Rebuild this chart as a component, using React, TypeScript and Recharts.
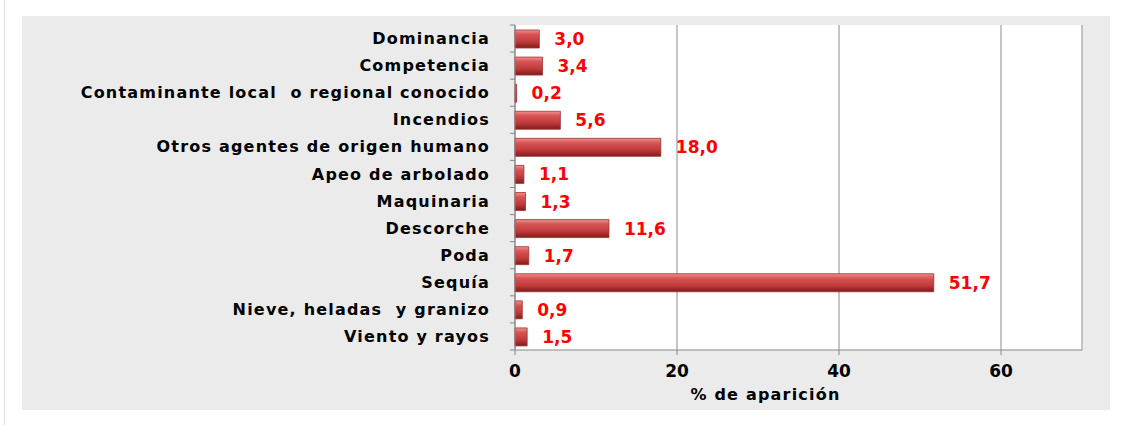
import React from 'react';
import {
  BarChart,
  Bar,
  XAxis,
  YAxis,
  CartesianGrid,
  LabelList,
  ReferenceLine
} from 'recharts';

const categories = [
  'Dominancia',
  'Competencia',
  'Contaminante local  o regional conocido',
  'Incendios',
  'Otros agentes de origen humano',
  'Apeo de arbolado',
  'Maquinaria',
  'Descorche',
  'Poda',
  'Sequía',
  'Nieve, heladas  y granizo',
  'Viento y rayos'
];

const values = [3.0, 3.4, 0.2, 5.6, 18.0, 1.1, 1.3, 11.6, 1.7, 51.7, 0.9, 1.5];

const xTicks = [0, 20, 40, 60];

const data = categories.map((name, i) => ({ name, value: values[i] }));

const CHART_W = 1088;
const CHART_H = 394;
const MARGIN = { top: 9, right: 28, left: 0, bottom: 0 };
const X_AXIS_H = 60;
const BAND = (CHART_H - MARGIN.top - MARGIN.bottom - X_AXIS_H) / categories.length;

const fmt = (v: number) => v.toFixed(1).replace('.', ',');

const CategoryTick = (props: any) => {
  const { x, y, payload, index } = props;
  return (
    <g>
      <line x1={x - 5} x2={x} y1={y - BAND / 2} y2={y - BAND / 2} stroke="#888" />
      {index === categories.length - 1 && (
        <line x1={x - 5} x2={x} y1={y + BAND / 2} y2={y + BAND / 2} stroke="#888" />
      )}
      <text
        x={x - 25}
        y={y}
        dy="0.35em"
        textAnchor="end"
        fill="#000"
        style={{ fontFamily: 'DejaVu Sans', fontWeight: 700, fontSize: 16, letterSpacing: 1.2, whiteSpace: 'pre' }}
      >
        {payload.value}
      </text>
    </g>
  );
};

export default function App() {
  return (
    <div style={{ position: 'absolute', left: 0, top: 0, width: 1127, height: 425, background: '#fff' }}>
      <div style={{ position: 'absolute', left: 4, top: 0, width: 1, height: 425, background: '#dcdcdc' }} />
      <div style={{ position: 'absolute', left: 22, top: 16, width: CHART_W, height: CHART_H, background: '#ebebeb' }}>
        <BarChart
          width={CHART_W}
          height={CHART_H}
          data={data}
          layout="vertical"
          margin={MARGIN}
          barSize={18}
        >
          <defs>
            <linearGradient id="barFill" x1="0" y1="0" x2="0" y2="1">
              <stop offset="0%" stopColor="#f09090" />
              <stop offset="25%" stopColor="#d85454" />
              <stop offset="65%" stopColor="#c03a3a" />
              <stop offset="100%" stopColor="#7e1c1c" />
            </linearGradient>
          </defs>
          <CartesianGrid horizontal={false} stroke="#8a8a8a" fill="#fff" />
          <XAxis
            type="number"
            domain={[0, 70]}
            ticks={xTicks}
            height={X_AXIS_H}
            stroke="#888"
            tickSize={5}
            tickMargin={10}
            tick={{ fill: '#000', fontFamily: 'DejaVu Sans', fontWeight: 700, fontSize: 17 }}
            label={{
              value: '% de aparición',
              position: 'insideBottom',
              offset: 10,
              dx: -33,
              style: { fill: '#000', fontFamily: 'DejaVu Sans', fontWeight: 700, fontSize: 16, letterSpacing: 1.2 }
            }}
          />
          <YAxis
            type="category"
            dataKey="name"
            width={493}
            stroke="#888"
            tickLine={false}
            tickSize={0}
            tickMargin={0}
            interval={0}
            tick={<CategoryTick />}
          />
          <ReferenceLine x={70} stroke="#c4c4c4" />
          <Bar dataKey="value" fill="url(#barFill)" stroke="#a23030" strokeWidth={0.8} isAnimationActive={false}>
            <LabelList
              dataKey="value"
              position="right"
              offset={15}
              formatter={(v: any) => fmt(Number(v))}
              style={{ fill: '#ff0000', fontFamily: 'DejaVu Sans', fontWeight: 700, fontSize: 17 }}
            />
          </Bar>
        </BarChart>
      </div>
    </div>
  );
}
